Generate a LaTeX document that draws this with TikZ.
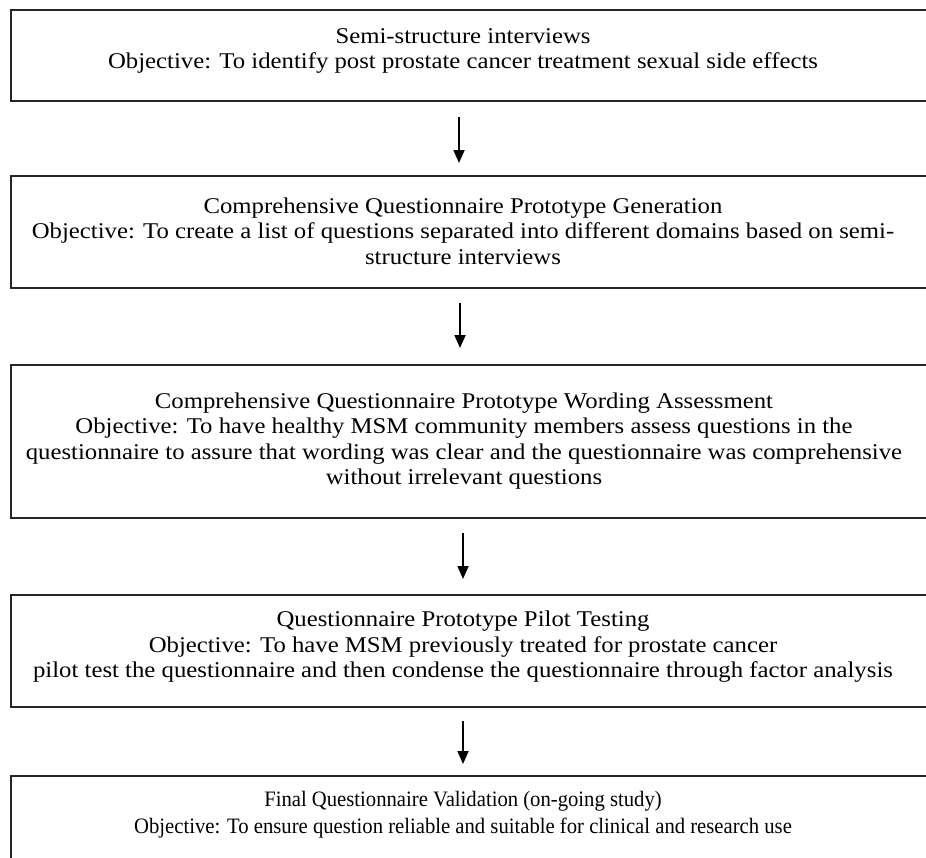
\documentclass[tikz,border=0pt]{standalone}
\usepackage{fontspec}
\setmainfont{Liberation Serif}
\newfontfamily\widefont[FakeStretch=1.1]{Liberation Serif}
\newfontfamily\narrowfont[FakeStretch=0.94]{Liberation Serif}
\usetikzlibrary{arrows.meta}
\begin{document}
\begin{tikzpicture}[x=1pt,y=-1pt,
  stage/.style={draw=black!85,line width=2pt,rectangle,minimum width=940pt,anchor=north west,inner sep=0pt},
  txt/.style={align=center,inner sep=0pt,font=\widefont\fontsize{22.5}{25.5}\selectfont},
  txtn/.style={align=center,inner sep=0pt,font=\narrowfont\fontsize{22}{27}\selectfont},
  arr/.style={line width=1.8pt,-{Triangle[length=13pt,width=11pt]}}]
\clip (0,0) rectangle (926,857);
\fill[white] (0,0) rectangle (926,857);
\node[stage,minimum height=91pt] (b1) at (10,9) {};
\node[stage,minimum height=112pt] (b2) at (10,175) {};
\node[stage,minimum height=153pt] (b3) at (10,364) {};
\node[stage,minimum height=112pt] (b4) at (10,594) {};
\node[stage,minimum height=120pt] (b5) at (10,775) {};
\node[txt] (t1) at (463,51) {Semi-structure interviews\\Objective: To identify post prostate cancer treatment sexual side effects};
\node[txt] (t2) at (463,231) {Comprehensive Questionnaire Prototype Generation\\Objective: To create a list of questions separated into different domains based on semi-\\structure interviews};
\node[txt] (t3) at (464,441) {Comprehensive Questionnaire Prototype Wording Assessment\\Objective: To have healthy MSM community members assess questions in the\\questionnaire to assure that wording was clear and the questionnaire was comprehensive\\without irrelevant questions};
\node[txt] (t4) at (463,647) {Questionnaire Prototype Pilot Testing\\Objective: To have MSM previously treated for prostate cancer\\pilot test the questionnaire and then condense the questionnaire through factor analysis};
\node[txtn] (t5) at (463,815) {Final Questionnaire Validation (on-going study)\\Objective: To ensure question reliable and suitable for clinical and research use};
\coordinate (a1s) at (459,117); \coordinate (a1e) at (459,163);
\coordinate (a2s) at (460,303); \coordinate (a2e) at (460,348);
\coordinate (a3s) at (463,533); \coordinate (a3e) at (463,579);
\coordinate (a4s) at (463,721); \coordinate (a4e) at (463,764);
\draw[arr] (a1s) -- (a1e);
\draw[arr] (a2s) -- (a2e);
\draw[arr] (a3s) -- (a3e);
\draw[arr] (a4s) -- (a4e);
\end{tikzpicture}
\end{document}
